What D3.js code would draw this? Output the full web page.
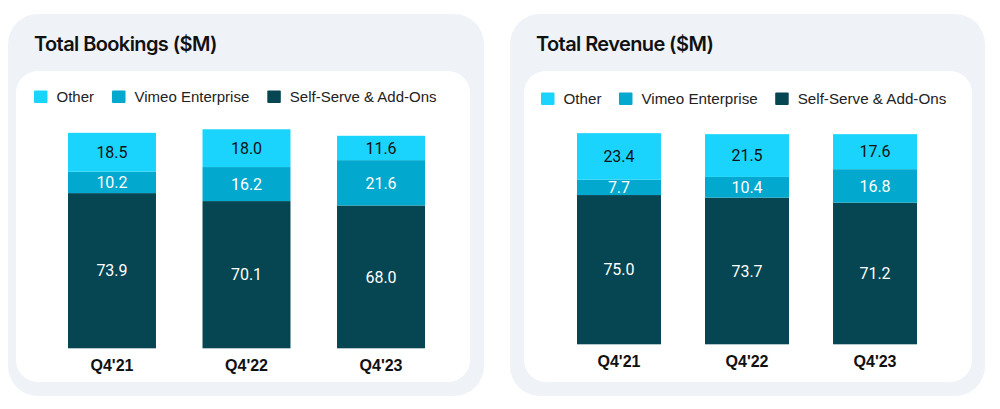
<!DOCTYPE html>
<html>
<head>
<meta charset="utf-8">
<script src="https://cdn.jsdelivr.net/npm/d3@7"></script>
<style>
  html, body { margin: 0; padding: 0; background: #ffffff; }
  svg { display: block; }
</style>
</head>
<body>
<svg id="chart" width="1000" height="409"></svg>
<script>
// ---- Data ----
const categories = ["Q4'21", "Q4'22", "Q4'23"];
const seriesNames = ["Other", "Vimeo Enterprise", "Self-Serve & Add-Ons"];

const bookingsSelfServe = [73.9, 70.1, 68.0];
const bookingsEnterprise = [10.2, 16.2, 21.6];
const bookingsOther = [18.5, 18.0, 11.6];

const revenueSelfServe = [75.0, 73.7, 71.2];
const revenueEnterprise = [7.7, 10.4, 16.8];
const revenueOther = [23.4, 21.5, 17.6];

const bookingsTitle = "Total Bookings ($M)";
const revenueTitle = "Total Revenue ($M)";

// ---- Styling ----
const colors = { "Other": "#1bd4fd", "Vimeo Enterprise": "#02a8cd", "Self-Serve & Add-Ons": "#064552" };
const labelColors = { "Other": "#111111", "Vimeo Enterprise": "#ffffff", "Self-Serve & Add-Ons": "#ffffff" };

const svg = d3.select("#chart");

function buildRows(self, ent, other) {
  return categories.map((c, i) => ({
    cat: c,
    "Self-Serve & Add-Ons": self[i],
    "Vimeo Enterprise": ent[i],
    "Other": other[i]
  }));
}

const panels = [
  {
    title: bookingsTitle,
    rows: buildRows(bookingsSelfServe, bookingsEnterprise, bookingsOther),
    outer: { x: 8, y: 14, w: 476, h: 382 },
    inner: { x: 16, y: 71, w: 454, h: 311 },
    titleX: 34, titleY: 51,
    legendX: 34, legendBase: 102, legendFont: 15, legendGap: 18,
    xRange: [41.1, 451.9], pad: 0.346,
    base: 348.3, pxPerUnit: 2.1,
    catBase: 371
  },
  {
    title: revenueTitle,
    rows: buildRows(revenueSelfServe, revenueEnterprise, revenueOther),
    outer: { x: 510, y: 14, w: 475, h: 382 },
    inner: { x: 524, y: 71, w: 448, h: 311 },
    titleX: 536, titleY: 51,
    legendX: 541, legendBase: 104, legendFont: 15.2, legendGap: 17.5,
    xRange: [551.4, 942.6], pad: 0.344,
    base: 344.3, pxPerUnit: 1.99,
    catBase: 367
  }
];

const stackOrder = ["Self-Serve & Add-Ons", "Vimeo Enterprise", "Other"];

panels.forEach(p => {
  const g = svg.append("g");
  g.append("rect")
    .attr("x", p.outer.x).attr("y", p.outer.y)
    .attr("width", p.outer.w).attr("height", p.outer.h)
    .attr("rx", 30).attr("fill", "#eff3f8");
  g.append("rect")
    .attr("x", p.inner.x).attr("y", p.inner.y)
    .attr("width", p.inner.w).attr("height", p.inner.h)
    .attr("rx", 22).attr("fill", "#ffffff");

  g.append("text")
    .attr("x", p.titleX).attr("y", p.titleY)
    .attr("font-family", "Inter, 'Noto Sans', sans-serif")
    .attr("font-weight", 600)
    .attr("font-size", 20)
    .attr("letter-spacing", -0.6)
    .attr("fill", "#111111")
    .text(p.title);

  // Legend
  let lx = p.legendX;
  seriesNames.forEach(name => {
    g.append("rect")
      .attr("x", lx).attr("y", p.legendBase - 11.5)
      .attr("width", 13.5).attr("height", 12.5)
      .attr("rx", 1)
      .attr("fill", colors[name]);
    const t = g.append("text")
      .attr("x", lx + 22.5).attr("y", p.legendBase)
      .attr("font-family", "'Liberation Sans', Arial, sans-serif")
      .attr("font-size", p.legendFont)
      .attr("fill", "#222222")
      .text(name);
    lx += 22.5 + t.node().getComputedTextLength() + p.legendGap;
  });

  // Scales
  const x = d3.scaleBand()
    .domain(categories)
    .range(p.xRange)
    .paddingInner(p.pad)
    .paddingOuter(0.2);
  const yMax = 110;
  const y = d3.scaleLinear()
    .domain([0, yMax])
    .range([p.base, p.base - yMax * p.pxPerUnit]);

  const stack = d3.stack().keys(stackOrder);
  const layers = stack(p.rows);

  const layerG = g.selectAll("g.layer")
    .data(layers)
    .enter().append("g")
    .attr("class", "layer")
    .attr("fill", d => colors[d.key]);

  layerG.selectAll("rect")
    .data(d => d.map(v => ({ key: d.key, v })))
    .enter().append("rect")
    .attr("x", d => x(d.v.data.cat))
    .attr("y", d => y(d.v[1]))
    .attr("width", x.bandwidth())
    .attr("height", d => y(d.v[0]) - y(d.v[1]));

  // Value labels
  layerG.selectAll("text")
    .data(d => d.map(v => ({ key: d.key, v })))
    .enter().append("text")
    .attr("x", d => x(d.v.data.cat) + x.bandwidth() / 2)
    .attr("y", d => (y(d.v[0]) + y(d.v[1])) / 2)
    .attr("dy", "0.36em")
    .attr("text-anchor", "middle")
    .attr("font-family", "Roboto, sans-serif")
    .attr("font-size", 16)
    .attr("fill", d => labelColors[d.key])
    .text(d => d3.format(".1f")(d.v[1] - d.v[0]));

  // Category axis (labels only)
  const axis = d3.axisBottom(x).tickSize(0).tickPadding(0);
  const ag = g.append("g")
    .attr("transform", `translate(0, ${p.catBase})`)
    .call(axis);
  ag.select(".domain").remove();
  ag.selectAll("text")
    .attr("dy", 0)
    .attr("y", 0)
    .attr("font-family", "'Liberation Sans', Arial, sans-serif")
    .attr("font-weight", "bold")
    .attr("font-size", 16)
    .attr("fill", "#111111");
});
</script>
</body>
</html>
